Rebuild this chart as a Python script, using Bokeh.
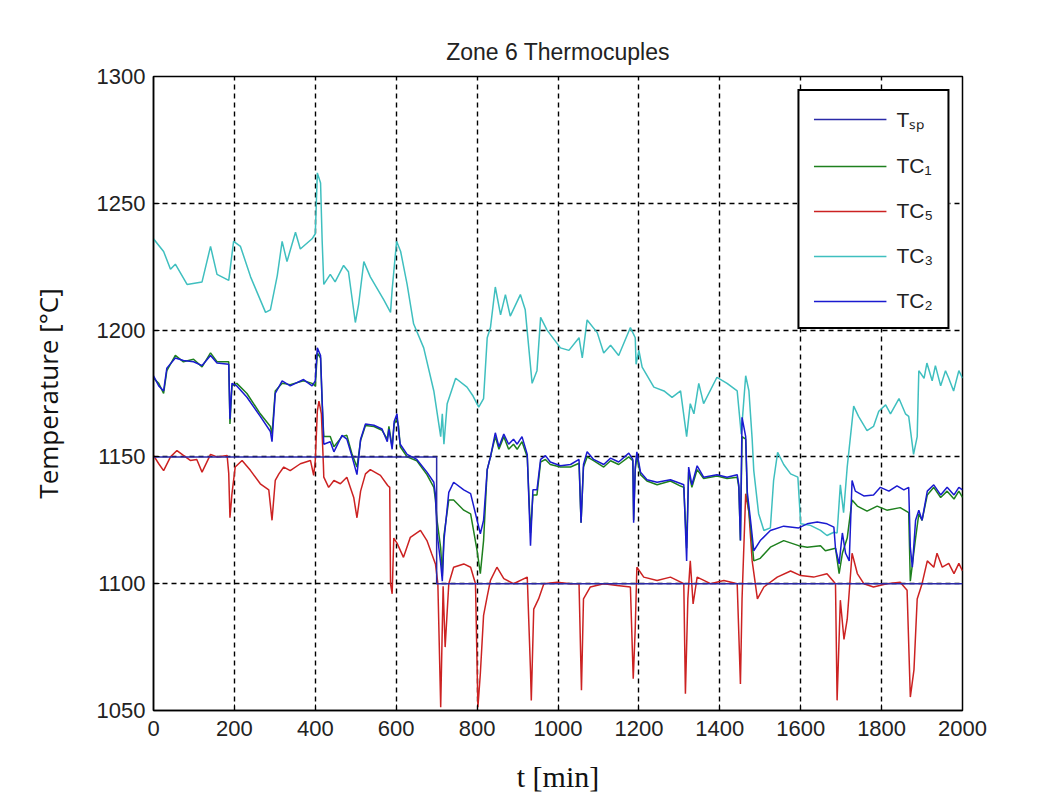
from bokeh.plotting import figure
from bokeh.models import Legend, LegendItem, FixedTicker
from bokeh.embed import file_html
from bokeh.resources import INLINE

# ---------------- data ----------------
x_ticks = [0, 200, 400, 600, 800, 1000, 1200, 1400, 1600, 1800, 2000]
y_ticks = [1050, 1100, 1150, 1200, 1250, 1300]

tsp_t = [0, 700, 700, 2000]
tsp_v = [1150, 1150, 1100, 1100]

tc3_t = [0, 25, 42, 54, 83, 120, 141, 157, 186, 198, 215, 240, 277, 289, 306, 318, 330, 351, 363, 392,
         400, 405, 413, 417, 421, 437, 449, 470, 482, 499, 507, 520, 536, 569, 586, 590, 601, 611, 627,
         643, 668, 693, 710, 714, 718, 726, 747, 775, 790, 804, 816, 825, 833, 845, 858, 870, 882, 907,
         919, 936, 948, 957, 973, 1006, 1027, 1052, 1060, 1072, 1097, 1113, 1130, 1150, 1179, 1191, 1193,
         1200, 1208, 1237, 1262, 1282, 1303, 1318, 1327, 1336, 1348, 1360, 1393, 1418, 1443, 1453, 1464,
         1472, 1480, 1484, 1496, 1509, 1525, 1533, 1543, 1558, 1575, 1593, 1600, 1624, 1649, 1665, 1682,
         1690, 1698, 1706, 1715, 1723, 1731, 1743, 1764, 1780, 1793, 1810, 1822, 1843, 1859, 1867, 1879,
         1888, 1892, 1905, 1912, 1925, 1933, 1946, 1958, 1966, 1978, 1991, 2000]
tc3_v = [1236, 1231, 1224, 1226, 1218, 1219, 1233, 1222, 1219.6, 1235, 1233, 1221, 1207, 1208, 1221.5,
         1235, 1227, 1238.6, 1232, 1236, 1238, 1262, 1258, 1235, 1218, 1222, 1219, 1225.5, 1223, 1203,
         1210, 1227, 1221, 1212, 1207, 1216, 1235, 1231, 1218, 1202.5, 1193, 1176, 1158, 1167, 1155, 1171,
         1181, 1177.5, 1174, 1169.6, 1173, 1197, 1201, 1217, 1206, 1214, 1205.5, 1214, 1208, 1179, 1184,
         1205, 1200, 1193, 1192, 1197, 1189, 1204, 1199, 1191, 1194, 1190, 1201, 1197, 1186.5, 1192,
         1185.4, 1177.5, 1176, 1173.5, 1176, 1158, 1171, 1167, 1179, 1171, 1181.4, 1179, 1176, 1159, 1182,
         1176, 1157, 1144.6, 1127.6, 1121, 1122, 1140.7, 1151.8, 1147, 1143.3, 1142, 1123.6, 1123, 1121,
         1119, 1120.3, 1120, 1139, 1128, 1146, 1158, 1170, 1166, 1160.4, 1162, 1168, 1170.5, 1167, 1173,
         1167, 1166, 1151, 1158, 1184, 1181, 1187, 1180, 1186, 1178, 1184, 1181, 1176, 1184, 1181]

tc1_t = [0, 13, 25, 33, 54, 74, 99, 120, 141, 157, 186, 189, 194, 206, 231, 264, 289, 293, 301, 318, 338,
         371, 392, 400, 405, 413, 417, 421, 437, 446, 466, 478, 491, 503, 512, 524, 545, 565, 578, 582,
         590, 595, 602, 606, 610, 627, 651, 676, 693, 697, 701, 710, 714, 718, 730, 742, 767, 784, 800,
         808, 816, 825, 833, 845, 854, 866, 878, 890, 899, 911, 924, 932, 938, 948, 957, 969, 981, 1006,
         1031, 1052, 1057, 1063, 1072, 1088, 1113, 1130, 1150, 1175, 1185, 1187, 1191, 1195, 1204, 1220,
         1245, 1278, 1303, 1311, 1318, 1323, 1331, 1344, 1360, 1393, 1418, 1443, 1447, 1451, 1455, 1464,
         1468, 1476, 1484, 1500, 1525, 1558, 1595, 1616, 1649, 1661, 1686, 1695, 1703, 1715, 1727, 1740,
         1764, 1789, 1813, 1846, 1867, 1871, 1884, 1892, 1900, 1913, 1929, 1946, 1962, 1979, 1991, 2000]
tc1_v = [1181, 1179, 1175, 1184, 1190, 1187.5, 1188.5, 1185.5, 1191, 1187.5, 1187.5, 1163, 1178, 1179,
         1175, 1167, 1162, 1159, 1176, 1179, 1178.5, 1180, 1179, 1178, 1191, 1189, 1171, 1158, 1158, 1154,
         1158, 1158.5, 1151, 1146, 1156.5, 1162.4, 1162, 1160.5, 1157, 1162, 1154, 1163, 1165, 1162, 1154,
         1150, 1148.5, 1143, 1138, 1133, 1125, 1114, 1103, 1119, 1133, 1133, 1129, 1127.5, 1113, 1104,
         1117, 1145, 1150, 1158, 1153, 1158, 1153, 1155, 1153, 1156, 1150, 1120, 1135, 1135, 1148, 1149,
         1147, 1146, 1146, 1147.5, 1124, 1146, 1150, 1148.5, 1146, 1148.5, 1147, 1150, 1148.5, 1125, 1145,
         1150, 1143, 1140.5, 1139, 1140.5, 1138.5, 1138, 1114, 1144, 1138, 1145, 1141.5, 1142.5, 1141.5,
         1142, 1138, 1117, 1158, 1157, 1134, 1122.7, 1109, 1110, 1114.4, 1117, 1115, 1114.4, 1115, 1113,
         1114, 1104, 1112, 1118, 1133, 1130.6, 1128.6, 1130.6, 1129, 1130, 1128, 1101, 1118, 1127.5, 1125,
         1135, 1138, 1134, 1136.5, 1133.4, 1136.5, 1134]

tc2_t = [0, 13, 25, 33, 54, 74, 99, 120, 141, 157, 186, 189, 194, 206, 231, 264, 289, 293, 301, 318, 338,
         371, 392, 400, 405, 413, 417, 421, 437, 446, 466, 478, 491, 503, 512, 524, 545, 565, 578, 582,
         590, 595, 602, 606, 610, 627, 651, 676, 693, 697, 701, 710, 714, 718, 730, 742, 767, 784, 800,
         808, 816, 825, 833, 845, 854, 866, 878, 890, 899, 911, 924, 932, 938, 948, 957, 969, 981, 1006,
         1031, 1052, 1057, 1063, 1072, 1088, 1113, 1130, 1150, 1175, 1185, 1187, 1191, 1195, 1204, 1220,
         1245, 1278, 1303, 1311, 1318, 1323, 1331, 1344, 1360, 1393, 1418, 1443, 1447, 1451, 1455, 1464,
         1468, 1476, 1484, 1500, 1525, 1558, 1595, 1616, 1641, 1665, 1682, 1686, 1695, 1703, 1711, 1720,
         1727, 1735, 1756, 1780, 1797, 1818, 1838, 1855, 1867, 1871, 1876, 1884, 1892, 1900, 1913, 1929,
         1946, 1962, 1979, 1991, 2000]
tc2_v = [1182, 1178, 1176, 1185, 1189, 1188, 1187.5, 1186, 1190, 1187, 1186.5, 1165, 1179, 1178, 1173.5,
         1166, 1160, 1156, 1175, 1180, 1178, 1180.5, 1178, 1180, 1193, 1190, 1172, 1155, 1156, 1152,
         1158.5, 1157, 1150, 1143, 1157, 1163, 1162.5, 1161, 1156, 1161, 1153, 1164, 1167, 1160, 1155,
         1151, 1149, 1144, 1140, 1135, 1120, 1108, 1101, 1117, 1136, 1140, 1137, 1135.5, 1125, 1119.7,
         1125, 1145, 1150, 1159.5, 1154, 1159, 1155, 1157, 1155, 1158, 1151, 1115, 1137, 1137, 1149,
         1150.5, 1148, 1146.5, 1147, 1149, 1124, 1147, 1152, 1149, 1147, 1149.5, 1148, 1151.5, 1149, 1124,
         1146, 1152, 1144, 1141, 1140, 1141, 1139.5, 1139, 1109, 1146, 1139, 1146.5, 1142, 1143, 1142,
         1143, 1139, 1117, 1165.6, 1158, 1136, 1125, 1113, 1117, 1121, 1122.7, 1122, 1123.6, 1124.3,
         1123.6, 1122.3, 1114, 1107.8, 1120, 1112, 1109, 1140.7, 1136.5, 1134.6, 1135, 1138, 1136.5,
         1138.6, 1137, 1138, 1114.4, 1106.5, 1125, 1129, 1125, 1136.5, 1139, 1135, 1138, 1135, 1138, 1137]

tc5_t = [0, 13, 25, 42, 58, 74, 91, 107, 120, 141, 157, 182, 186, 189, 194, 202, 219, 240, 264, 285, 293,
         301, 310, 322, 338, 363, 388, 396, 400, 405, 409, 415, 420, 421, 433, 446, 462, 478, 495, 503,
         512, 524, 536, 561, 579, 584, 586, 590, 594, 602, 618, 635, 660, 676, 688, 697, 703, 710, 716,
         721, 730, 742, 767, 784, 796, 802, 808, 816, 825, 833, 849, 866, 890, 924, 932, 934, 940, 952,
         965, 998, 1031, 1052, 1058, 1063, 1080, 1113, 1146, 1179, 1186, 1191, 1195, 1212, 1245, 1278,
         1311, 1315, 1321, 1327, 1334, 1344, 1377, 1410, 1443, 1451, 1455, 1464, 1472, 1480, 1493, 1509,
         1542, 1575, 1600, 1632, 1665, 1686, 1690, 1698, 1707, 1715, 1727, 1740, 1756, 1780, 1813, 1846,
         1863, 1871, 1880, 1888, 1900, 1913, 1929, 1937, 1950, 1966, 1979, 1991, 2000]
tc5_v = [1150.6, 1147.3, 1144.6, 1150, 1152.5, 1150.6, 1148.6, 1149, 1144, 1151, 1150, 1150.6, 1143.5,
         1126, 1135.5, 1146, 1148.6, 1144.6, 1139.4, 1137, 1125, 1140.7, 1143.3, 1146, 1144.6, 1147.3,
         1148.6, 1142.7, 1148.6, 1168, 1172, 1167, 1147, 1142, 1138, 1140.7, 1139.4, 1142, 1134, 1126,
         1136.5, 1143.3, 1145, 1142.7, 1138.7, 1138, 1100, 1096, 1118, 1116, 1110.4, 1118.3, 1121, 1117,
         1111.7, 1107.8, 1100, 1051.3, 1099, 1075, 1100, 1106.5, 1107.8, 1106.5, 1100, 1051.3, 1064.5,
         1087.5, 1095, 1101.3, 1106.5, 1102, 1100, 1102.6, 1065.8, 1054, 1090, 1094, 1100, 1100.6, 1100,
         1100, 1058, 1094, 1098.7, 1100, 1099.3, 1098.7, 1062.5, 1082.5, 1106.5, 1102.6, 1101.3, 1102.6,
         1100, 1056.6, 1094, 1109, 1092, 1102.6, 1100, 1101.3, 1100, 1060.5, 1094, 1135.5, 1128, 1109,
         1094, 1098.7, 1102.6, 1105, 1103.2, 1102.6, 1103.9, 1100, 1054, 1093.5, 1078, 1086, 1112, 1104,
         1100, 1098.7, 1100, 1100.6, 1097.4, 1055.3, 1066, 1094, 1100, 1109, 1106.5, 1112, 1106.5, 1108,
         1104, 1108, 1105]

# ---------------- figure ----------------
p = figure(width=1050, height=796, x_range=(0, 2000), y_range=(1050, 1300),
           output_backend="svg", toolbar_location=None,
           min_border_left=153, min_border_right=88, min_border_top=76, min_border_bottom=86,
           title="Zone 6 Thermocuples")
p.background_fill_color = "white"
p.border_fill_color = "white"
p.outline_line_color = "black"
p.outline_line_width = 1.5
p.outline_line_alpha = 1.0

p.title.align = "center"
p.title.text_font = "Liberation Sans"
p.title.text_font_size = "23px"
p.title.text_font_style = "normal"
p.title.text_color = "#222222"
p.title.standoff = 23

for ax in (p.xaxis[0], p.yaxis[0]):
    ax.axis_line_color = "black"
    ax.axis_line_width = 1.5
    ax.major_tick_in = 6
    ax.major_tick_out = 0
    ax.major_tick_line_color = "black"
    ax.minor_tick_line_color = None
    ax.major_label_text_font = "Liberation Sans"
    ax.major_label_text_font_size = "22px"
    ax.major_label_text_color = "#222222"
    ax.axis_label_text_font_style = "normal"
    ax.axis_label_text_color = "#111111"

p.xaxis.ticker = FixedTicker(ticks=x_ticks)
p.yaxis.ticker = FixedTicker(ticks=y_ticks)
p.xaxis.major_label_standoff = 10
p.yaxis.major_label_standoff = 8

p.xaxis.axis_label = "t [min]"
p.xaxis.axis_label_text_font = "Liberation Serif"
p.xaxis.axis_label_text_font_size = "30px"
p.xaxis.axis_label_standoff = 21

p.yaxis.axis_label = "Temperature [°C]"
p.yaxis.axis_label_text_font = "Open Sans"
p.yaxis.axis_label_text_font_size = "26px"
p.yaxis.axis_label_standoff = 28

p.grid.grid_line_color = "black"
p.grid.grid_line_dash = "5 4"
p.grid.grid_line_width = 1.4
p.grid.grid_line_alpha = 1.0

lw = 1.5
r_tc3 = p.line(tc3_t, tc3_v, line_color="#3fbfbf", line_width=lw)
r_tc5 = p.line(tc5_t, tc5_v, line_color="#cc2222", line_width=lw)
r_tc1 = p.line(tc1_t, tc1_v, line_color="#1e801e", line_width=lw)
r_tc2 = p.line(tc2_t, tc2_v, line_color="#1a1ad0", line_width=lw)
r_tsp = p.line(tsp_t, tsp_v, line_color="#2a2aa8", line_width=lw)

legend = Legend(items=[
    LegendItem(label="T\u209b\u209a", renderers=[r_tsp]),
    LegendItem(label="TC\u2081", renderers=[r_tc1]),
    LegendItem(label="TC\u2085", renderers=[r_tc5]),
    LegendItem(label="TC\u2083", renderers=[r_tc3]),
    LegendItem(label="TC\u2082", renderers=[r_tc2]),
], location="top_right")
legend.margin = 13
legend.padding = 14
legend.spacing = 21
legend.glyph_width = 73
legend.glyph_height = 22
legend.label_height = 22
legend.label_standoff = 10
legend.label_text_font = "Liberation Sans"
legend.label_text_font_size = "21px"
legend.label_text_color = "#222222"
legend.border_line_color = "black"
legend.border_line_width = 2
legend.border_line_alpha = 1.0
legend.background_fill_color = "white"
legend.background_fill_alpha = 1.0
p.add_layout(legend)

open("out.html", "w").write(file_html(p, INLINE))
